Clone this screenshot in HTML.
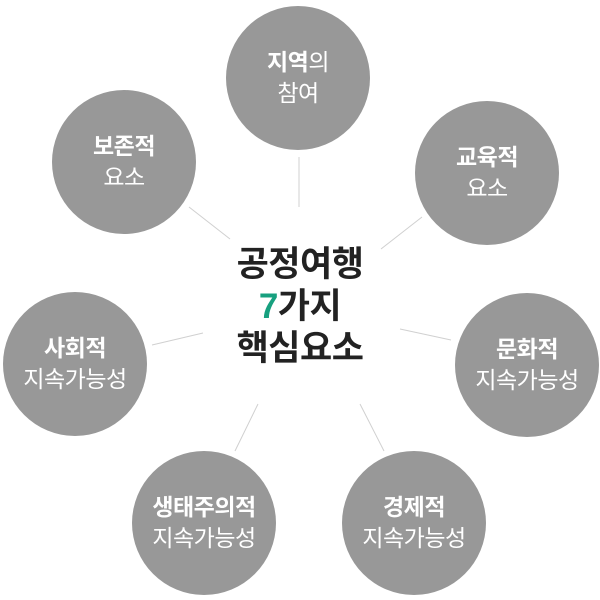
<!DOCTYPE html>
<html><head><meta charset="utf-8"><style>
body{margin:0;width:600px;height:600px;background:#fff;overflow:hidden;position:relative;font-family:"Liberation Sans","Noto Sans CJK KR",sans-serif}
.c{position:absolute;width:144px;height:144px;border-radius:50%;background:#989898;color:#fff;text-align:center;display:flex;flex-direction:column;justify-content:center;font-size:23px;line-height:31px;letter-spacing:-0.5px}
.c b{font-weight:700}
.ctr{position:absolute;left:190px;top:244px;width:220px;text-align:center;font-size:35px;font-weight:700;line-height:42px;color:#222;letter-spacing:-0.5px}
</style></head><body>
<svg width="600" height="600" style="position:absolute;left:0;top:0">
<g stroke="#d0d0d0" stroke-width="1">
<line x1="299" y1="157" x2="299" y2="207"/>
<line x1="189" y1="207" x2="230" y2="239"/>
<line x1="422" y1="217" x2="381" y2="249"/>
<line x1="152" y1="345" x2="203" y2="333"/>
<line x1="400" y1="329" x2="451" y2="340"/>
<line x1="258" y1="404" x2="235" y2="451"/>
<line x1="360" y1="404" x2="384" y2="451"/>
</g></svg>
<div class="c" style="left:226px;top:6px"><div><b>지역</b>의</div><div>참여</div></div>
<div class="c" style="left:52px;top:90px"><div><b>보존적</b></div><div>요소</div></div>
<div class="c" style="left:415px;top:101px"><div><b>교육적</b></div><div>요소</div></div>
<div class="c" style="left:3px;top:292px"><div><b>사회적</b></div><div>지속가능성</div></div>
<div class="c" style="left:455px;top:293px"><div><b>문화적</b></div><div>지속가능성</div></div>
<div class="c" style="left:132px;top:451px"><div><b>생태주의적</b></div><div>지속가능성</div></div>
<div class="c" style="left:342px;top:451px"><div><b>경제적</b></div><div>지속가능성</div></div>
<div class="ctr">공정여행<br><span style="color:#17a07f">7</span>가지<br>핵심요소</div>
</body></html>
